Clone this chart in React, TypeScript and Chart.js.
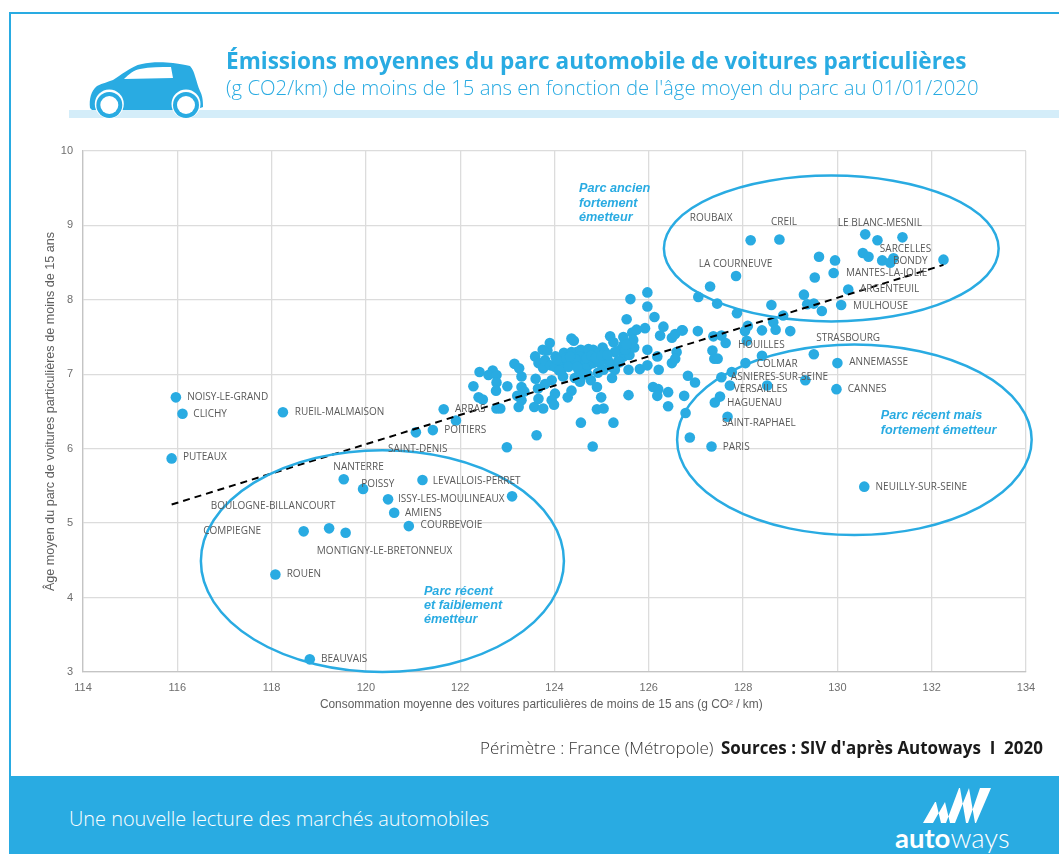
import React, { useEffect, useRef } from "react";
import { Chart, registerables } from "chart.js";

Chart.register(...registerables);

const CITY_X = [115.97,116.11,115.88,118.24,121.65,121.42,122.99,119.53,119.94,121.2,120.47,120.6,120.91,119.22,118.68,119.57,118.08,118.81,128.16,128.77,130.59,130.85,131.38,130.54,130.66,130.95,131.12,131.19,132.25,127.85,129.92,130.23,130.08,128.05,129.5,130.0,129.98,127.67,127.33,130.57,123.1,121.06,121.91];
const CITY_Y = [6.69,6.47,5.87,6.49,6.53,6.25,6.02,5.59,5.46,5.58,5.32,5.14,4.96,4.93,4.89,4.87,4.31,3.17,8.8,8.81,8.88,8.8,8.84,8.63,8.58,8.53,8.5,8.56,8.54,8.32,8.36,8.14,7.93,7.15,7.27,7.15,6.8,6.43,6.03,5.49,5.36,6.22,6.38];

const CLOUD_X = [129.61,129.95,129.52,127.3,127.05,127.45,127.87,129.29,129.36,129.5,129.67,128.6,128.85,128.64,128.1,128.04,128.4,128.69,129.0,127.37,127.54,127.63,128.08,126.72,127.04,127.35,127.39,127.46,128.4,127.76,127.54,126.83,126.98,127.72,128.51,129.32,126.75,127.51,127.4,126.87,126.78,
122.41,122.28,122.69,122.6,122.77,122.77,122.76,123.0,122.39,122.48,122.77,122.85,123.15,123.25,123.3,123.3,123.36,123.21,123.3,123.24,123.57,123.76,123.66,123.65,123.6,123.59,123.75,123.85,123.9,123.66,123.76,123.8,123.92,124.02,124.01,124.15,124.2,124.36,124.41,124.15,124.18,123.94,123.8,124.01,123.94,123.99,124.36,124.28,124.56,124.4,124.54,124.36,124.61,124.51,124.43,124.57,124.29,124.47,
124.36,124.47,124.56,124.72,124.82,125.02,124.93,125.18,125.25,125.46,125.65,125.74,125.92,125.53,125.97,125.97,125.61,126.12,126.31,126.24,126.49,126.56,126.7,125.97,126.18,126.49,126.59,126.56,125.81,125.97,126.21,125.57,125.22,125.28,125.21,125.14,125.46,125.59,125.39,125.28,125.57,125.67,125.69,125.46,125.07,124.82,124.96,124.72,124.62,124.54,124.65,124.57,125.04,124.77,124.54,124.9,124.99,125.57,124.9,125.04,126.09,126.2,126.41,126.18,126.41,125.25,123.62,124.81,
124.05,124.1,124.25,124.3,124.45,124.68,124.78,124.88,125.0,125.12,125.35,125.5,125.62,124.7,124.92,124.33,124.48,125.38,125.52];
const CLOUD_Y = [8.58,8.53,8.3,8.18,8.04,7.95,7.82,8.07,7.94,7.95,7.85,7.93,7.79,7.7,7.65,7.58,7.59,7.6,7.58,7.51,7.52,7.42,7.45,7.59,7.58,7.32,7.21,7.21,7.25,7.03,6.96,6.98,6.89,6.85,6.85,6.92,6.71,6.7,6.62,6.15,6.48,
7.03,6.84,7.05,6.99,6.99,6.89,6.78,6.84,6.69,6.66,6.54,6.54,7.14,7.08,6.97,6.83,6.77,6.71,6.65,6.56,6.56,6.54,6.67,6.81,6.94,7.24,7.33,7.32,7.42,7.15,7.08,7.19,7.12,7.24,7.1,7.17,7.29,7.48,7.45,7.06,6.97,6.92,6.87,6.74,6.65,6.59,6.78,6.69,6.35,7.24,7.28,7.3,7.12,7.06,6.95,6.97,7.15,7.17,
7.28,7.3,7.33,7.34,7.33,7.36,7.28,7.51,7.43,7.5,7.56,7.6,7.62,7.74,8.1,7.91,8.01,7.77,7.64,7.52,7.49,7.54,7.59,7.33,7.24,7.15,7.3,7.21,7.07,7.12,7.06,7.06,6.95,7.06,7.1,7.18,7.24,7.26,7.33,7.3,7.39,7.46,7.36,7.39,7.3,7.15,7.15,7.12,7.19,7.24,7.08,7.01,7.06,6.92,6.9,6.83,6.69,6.72,6.53,6.54,6.83,6.8,6.76,6.71,6.57,6.35,6.18,6.03,
7.2,7.05,7.22,7.1,7.2,7.22,7.25,7.22,7.25,7.26,7.18,7.33,7.42,7.0,7.02,7.24,7.1,7.16,7.4];

const TREND_X = [115.88, 132.25];
const TREND_Y = [5.25, 8.47];

const LABEL_NAMES = ["NOISY-LE-GRAND","CLICHY","PUTEAUX","RUEIL-MALMAISON","ARRAS","POITIERS","SAINT-DENIS","NANTERRE","POISSY","LEVALLOIS-PERRET","ISSY-LES-MOULINEAUX","AMIENS","COURBEVOIE","BOULOGNE-BILLANCOURT","COMPIEGNE","MONTIGNY-LE-BRETONNEUX","ROUEN","BEAUVAIS","ROUBAIX","CREIL","LE BLANC-MESNIL","SARCELLES","BONDY","LA COURNEUVE","MANTES-LA-JOLIE","ARGENTEUIL","MULHOUSE","HOUILLES","STRASBOURG","COLMAR","ANNEMASSE","ASNIERES-SUR-SEINE","VERSAILLES","CANNES","HAGUENAU","SAINT-RAPHAEL","PARIS","NEUILLY-SUR-SEINE"];
const LABEL_X = [116.21,116.34,116.12,118.49,121.89,121.66,120.47,119.31,119.9,121.42,120.68,120.83,121.16,116.71,116.55,118.96,118.32,119.05,126.87,128.59,130.01,130.9,131.18,127.06,130.18,130.48,130.33,127.89,129.55,128.29,130.25,127.74,127.8,130.22,127.66,127.55,127.57,130.81];
const LABEL_Y = [6.69,6.47,5.88,6.49,6.53,6.25,6.0,5.75,5.53,5.57,5.32,5.14,4.97,5.23,4.89,4.63,4.31,3.17,9.1,9.05,9.03,8.68,8.52,8.48,8.36,8.15,7.92,7.39,7.49,7.14,7.16,6.96,6.8,6.8,6.61,6.35,6.02,5.49];

const NOTE_LINES = ["Parc ancien","fortement","émetteur","Parc récent mais","fortement émetteur","Parc récent","et faiblement","émetteur"];
const NOTE_X = [124.52,124.52,124.52,130.92,130.92,121.23,121.23,121.23];
const NOTE_Y = [9.5,9.3,9.1,6.44,6.24,4.08,3.89,3.7];

const ELLIPSE_CX = [129.87,130.36,120.35];
const ELLIPSE_CY = [8.69,6.12,4.49];
const ELLIPSE_RX = [3.55,3.76,3.85];
const ELLIPSE_RY = [0.98,1.28,1.49];

const BLUE = "#29abe2";

const annotations = {
  id: "annotations",
  afterDatasetsDraw(chart: any) {
    const { ctx, scales } = chart;
    const sx = scales.x;
    const sy = scales.y;
    ctx.save();
    ctx.strokeStyle = BLUE;
    ctx.lineWidth = 2.5;
    ELLIPSE_CX.forEach((cx, i) => {
      const px = sx.getPixelForValue(cx);
      const py = sy.getPixelForValue(ELLIPSE_CY[i]);
      const rx = Math.abs(sx.getPixelForValue(cx + ELLIPSE_RX[i]) - px);
      const ry = Math.abs(sy.getPixelForValue(ELLIPSE_CY[i] + ELLIPSE_RY[i]) - py);
      ctx.beginPath();
      ctx.ellipse(px, py, rx, ry, 0, 0, Math.PI * 2);
      ctx.stroke();
    });
    ctx.textBaseline = "middle";
    ctx.textAlign = "left";
    ctx.fillStyle = "#595959";
    ctx.font = '10px "Open Sans"';
    LABEL_NAMES.forEach((name, i) => {
      ctx.fillText(name, sx.getPixelForValue(LABEL_X[i]), sy.getPixelForValue(LABEL_Y[i]));
    });
    ctx.fillStyle = BLUE;
    ctx.font = 'italic bold 12.7px "Liberation Sans"';
    NOTE_LINES.forEach((line, i) => {
      ctx.fillText(line, sx.getPixelForValue(NOTE_X[i]), sy.getPixelForValue(NOTE_Y[i]));
    });
    ctx.restore();
  },
};

const abs = (left: number, top: number, extra: any = {}): any => ({ position: "absolute", left, top, whiteSpace: "nowrap", ...extra });

export default function App() {
  const ref = useRef<HTMLCanvasElement>(null);
  useEffect(() => {
    const chart = new Chart(ref.current as HTMLCanvasElement, {
      type: "scatter",
      data: {
        datasets: [
          {
            type: "line",
            data: TREND_X.map((x, i) => ({ x, y: TREND_Y[i] })),
            borderColor: "#000",
            borderWidth: 2,
            borderDash: [7, 5],
            pointRadius: 0,
            fill: false,
            order: 0,
          },
          {
            data: CLOUD_X.map((x, i) => ({ x, y: CLOUD_Y[i] })).concat(CITY_X.map((x, i) => ({ x, y: CITY_Y[i] }))),
            backgroundColor: BLUE,
            borderWidth: 0,
            pointRadius: 5.3,
            order: 1,
          },
        ],
      } as any,
      options: {
        responsive: false,
        animation: false,
        layout: { padding: { left: 0, top: 151, right: 33, bottom: 142 } },
        plugins: { legend: { display: false }, tooltip: { enabled: false } },
        scales: {
          x: {
            type: "linear",
            min: 114,
            max: 134,
            afterFit: (s: any) => { s.height = 40; },
            ticks: { stepSize: 2, color: "#6e6e6e", padding: 9, maxRotation: 0, font: { family: "Liberation Sans", size: 11 } },
            grid: { color: "#dcdcdc", lineWidth: 1.3, drawTicks: false },
            border: { color: "#c4c4c4", width: 1.3 },
            title: { display: true, text: "Consommation moyenne des voitures particulières de moins de 15 ans (g CO² / km)\u00A0\u00A0\u00A0\u00A0\u00A0\u00A0\u00A0\u00A0", color: "#5f5f5f", padding: { top: 4, bottom: 0 }, font: { family: "Liberation Sans", size: 11.9 } },
          },
          y: {
            min: 3,
            max: 10,
            afterFit: (s: any) => { s.width = 83; },
            ticks: { stepSize: 1, color: "#6e6e6e", padding: 10, font: { family: "Liberation Sans", size: 11 } },
            grid: { color: "#dcdcdc", lineWidth: 1.3, drawTicks: false },
            border: { color: "#c4c4c4", width: 1.3 },
            title: { display: true, text: "Âge moyen du parc de voitures particulières de moins de 15 ans", color: "#5f5f5f", padding: { top: 43, bottom: 0 }, font: { family: "Liberation Sans", size: 12.6 } },
          },
        },
      },
      plugins: [annotations],
    } as any);
    return () => chart.destroy();
  }, []);

  return (
    <div style={{ position: "absolute", left: 0, top: 0, width: 1059, height: 854, overflow: "hidden", background: "#fff", fontFamily: '"Open Sans"' }}>
      <div style={abs(9, 12, { width: 1050, height: 2, background: BLUE })} />
      <div style={abs(9, 12, { width: 2, height: 770, background: BLUE })} />
      <div style={abs(69, 110, { width: 990, height: 8, background: "#d4edf9" })} />
      <canvas ref={ref} width={1059} height={854} style={{ position: "absolute", left: 0, top: 0 }} />
      <svg style={abs(80, 55)} width={130} height={70} viewBox="0 0 130 70">
        <path fill={BLUE} d="M10 53 C9 44 11 36 17 31 C23 28 28 27 33 25 C38 22 41 19 45 17 C51 13 56 10 62 9 C70 7 83 7 93 8 C100 9 106 10 110 11 C113 14 114 18 115 21 C117 27 118 32 120 36 C122 40 123 44 123 52 L115 55 L43 55 L12 55 Z" />
        <path fill="#fff" d="M44 24 C49 19 54 15 60 14 C70 12 81 12 91 12 L93 23 Z" />
        {[29.3, 106].map((cx) => (
          <g key={cx}>
            <circle cx={cx} cy={49} r={14.5} fill="#fff" />
            <circle cx={cx} cy={50} r={13} fill={BLUE} />
            <circle cx={cx} cy={50} r={9} fill="#fff" />
          </g>
        ))}
      </svg>
      <div style={abs(226, 46, { color: BLUE, fontSize: 22.55, fontWeight: 700, lineHeight: "30px" })}>Émissions moyennes du parc automobile de voitures particulières</div>
      <div style={abs(226, 74, { color: BLUE, fontSize: 20.35, fontWeight: 300, lineHeight: "26px" })}>(g CO2/km) de moins de 15 ans en fonction de l'âge moyen du parc au 01/01/2020</div>
      <div style={abs(480, 737, { fontSize: 17, lineHeight: "22px", color: "#333", fontWeight: 300 })}>Périmètre : France (Métropole)</div>
      <div style={abs(721, 737, { fontSize: 16.95, lineHeight: "22px", color: "#1a1a1a", fontWeight: 700, whiteSpace: "pre" })}>{"Sources : SIV d'après Autoways  I  2020"}</div>
      <div style={abs(9, 776, { width: 1050, height: 78, background: BLUE })} />
      <div style={abs(69, 806, { color: "#fff", fontSize: 19.9, fontWeight: 300, lineHeight: "26px" })}>Une nouvelle lecture des marchés automobiles</div>
      <svg style={abs(885, 780)} width={135} height={50} viewBox="0 0 135 50">
        <path fill="#fff" d="M38 43 L48 43 L60 22 L50 22 Z M51 22 L60 22 L65 43 L56 43 Z M61 43 L70 43 L84 8 L74 8 Z M75 8 L84 8 L90 43 L81 43 Z M83 43 L91 43 L106 8 L95 8 Z" />
      </svg>
      <div style={abs(895, 822, { color: "#fff", fontSize: 27.5, lineHeight: "32px", fontFamily: "Lato" })}><b>auto</b><span style={{ fontWeight: 300 }}>ways</span></div>
    </div>
  );
}
